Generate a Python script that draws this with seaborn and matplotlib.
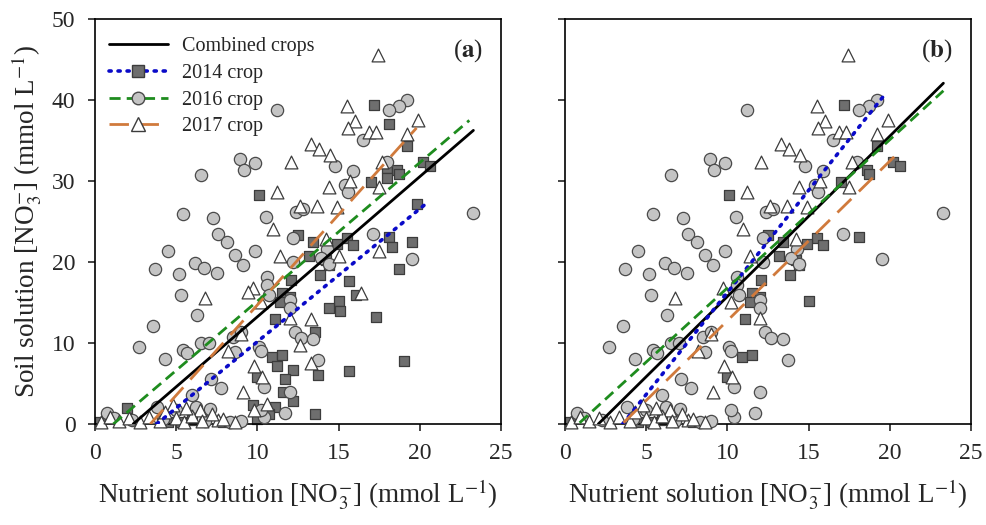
import numpy as np
import pandas as pd
import seaborn as sns
from matplotlib import pyplot as plt
from matplotlib.lines import Line2D

# ---- dados ----
# 2014 crop (quadrados); b14 = 1 se o ponto aparece também no painel (b)
x14 = [17.2, 18.1, 19.2, 20.2, 20.6, 18.0, 18.6, 18.7, 18.0, 17.0, 10.1, 19.8,
       12.5, 13.4, 15.5, 15.9, 14.9, 18.1, 18.3, 19.5, 18.7, 13.2, 14.4, 14.2,
       13.85, 12.05, 15.65, 11.5, 12.0, 11.4, 16.05, 15.0, 15.1, 14.4, 11.1, 13.55,
       17.3, 10.9, 11.5, 11.2, 12.2, 13.75, 11.7, 15.65, 19.05, 11.6, 12.2, 9.75,
       11.1, 13.55, 9.95, 0.3, 2.0, 4.5, 5.3, 7.9, 6.0, 10.0, 10.7]
y14 = [39.4, 37.0, 34.3, 32.4, 31.9, 31.6, 31.4, 30.9, 30.4, 29.9, 28.3, 27.2,
       23.3, 22.5, 23.0, 22.1, 22.2, 23.1, 21.9, 22.5, 19.1, 20.7, 19.6, 20.3,
       18.4, 17.8, 17.6, 16.2, 15.7, 15.1, 15.9, 15.2, 13.9, 14.3, 13.0, 11.3,
       13.2, 8.3, 8.5, 7.2, 6.7, 6.0, 5.6, 6.6, 7.8, 4.0, 2.8, 2.3,
       2.1, 1.2, 5.8, 0.2, 2.0, 0.3, 0.2, 0.2, 0.5, 0.6, 1.2]
b14 = [1, 0, 1, 1, 1, 0, 1, 1, 0, 1, 1, 0,
       1, 1, 1, 1, 1, 1, 0, 0, 0, 1, 1, 1,
       1, 1, 0, 1, 1, 1, 0, 1, 0, 0, 1, 0,
       0, 1, 1, 0, 0, 0, 0, 0, 0, 0, 0, 0,
       0, 0, 1, 1, 0, 1, 1, 1, 1, 0, 0]

# 2016 crop (círculos), iguais nos dois painéis
x16 = [23.3, 19.2, 18.7, 18.1, 11.2, 16.5, 8.9, 9.2, 9.85, 6.5, 14.8, 15.9,
       15.4, 15.6, 18.0, 5.4, 10.5, 12.4, 12.8, 7.25, 7.55, 8.1, 8.6, 9.1,
       4.5, 3.7, 5.2, 6.15, 6.7, 7.5, 9.85, 12.2, 17.1, 19.5, 14.3, 13.9,
       14.4, 12.2, 10.6, 10.6, 10.7, 12.0, 12.0, 12.3, 12.7, 13.4, 10.1, 10.2,
       5.3, 6.25, 3.6, 2.7, 4.3, 5.4, 5.65, 6.55, 7.05, 8.5, 8.6, 9.0,
       7.15, 7.75, 5.95, 10.4, 12.0, 10.4, 11.7, 3.8, 5.0, 6.2, 7.1, 9.0,
       10.2, 0.75, 1.2, 2.3, 4.2, 6.8, 8.3, 13.75]
y16 = [26.1, 40.0, 39.3, 38.8, 38.8, 35.1, 32.7, 31.3, 32.2, 30.8, 31.9, 31.2,
       29.5, 28.6, 32.3, 25.9, 25.6, 26.2, 26.6, 25.4, 23.5, 22.5, 20.9, 19.6,
       21.4, 19.1, 18.5, 19.9, 19.2, 18.6, 21.4, 23.0, 23.5, 20.4, 21.6, 20.5,
       19.8, 20.0, 18.2, 17.2, 15.9, 15.3, 14.3, 11.4, 10.6, 10.5, 9.5, 9.0,
       15.9, 13.5, 12.1, 9.5, 8.0, 9.1, 8.8, 10.0, 10.0, 10.7, 8.9, 11.4,
       5.6, 4.5, 3.6, 4.6, 3.9, 0.9, 1.3, 2.1, 1.7, 2.1, 1.8, 0.4,
       1.7, 1.3, 0.8, 0.5, 0.6, 0.4, 0.3, 7.9]

# 2017 crop (triângulos); b17 = 1 se aparece no painel (b)
x17 = [17.4, 15.5, 16.0, 15.6, 16.85, 17.3, 19.9, 19.2, 13.3, 13.8, 14.5, 12.05,
       17.7, 15.7, 14.4, 11.2, 17.5, 12.65, 13.65, 14.9, 10.95, 14.2, 11.4, 15.05,
       17.5, 9.7, 9.4, 16.4, 12.0, 13.3, 12.6, 13.3, 9.8, 10.3, 9.1, 10.6,
       9.8, 6.75, 9.0, 8.2, 10.2, 4.8, 6.45, 7.6, 0.4, 0.9, 1.5, 2.1,
       2.8, 3.3, 4.0, 5.0, 5.5, 6.0, 6.6, 7.2, 7.9, 8.6, 5.6, 4.3]
y17 = [45.6, 39.3, 37.4, 36.6, 36.1, 36.0, 37.5, 35.8, 34.6, 33.9, 33.2, 32.4,
       32.3, 30.0, 29.3, 28.7, 29.2, 26.9, 26.9, 26.8, 24.1, 22.9, 20.8, 20.7,
       21.4, 16.8, 16.3, 16.2, 13.1, 13.0, 9.75, 7.5, 7.1, 5.8, 4.0, 2.5,
       1.7, 15.6, 11.1, 9.0, 15.1, 2.3, 1.7, 0.5, 0.3, 0.9, 0.4, 0.8,
       0.3, 0.9, 0.4, 0.8, 0.3, 1.0, 0.4, 1.2, 0.6, 0.3, 2.0, 1.5]
b17 = [1, 1, 1, 1, 1, 1, 1, 1, 1, 1, 1, 1,
       1, 1, 1, 1, 1, 1, 1, 1, 1, 1, 1, 0,
       0, 1, 0, 0, 1, 0, 0, 0, 1, 1, 1, 0,
       0, 1, 1, 1, 1, 1, 1, 1, 1, 1, 1, 1,
       1, 1, 1, 1, 1, 1, 1, 1, 1, 1, 1, 1]

# retas de regressão: inclinação, intercepto, x inicial, x final
serie = ["Combined crops", "2014 crop", "2016 crop", "2017 crop"]
inc_a = [1.73, 1.64, 1.71, 2.23]
int_a = [-4.06, -6.23, -1.93, -7.60]
xi_a = [2.35, 3.8, 1.13, 3.4]
xf_a = [23.3, 20.3, 23.05, 19.8]
inc_b = [1.98, 2.52, 1.83, 1.97]
int_b = [-4.06, -8.95, -1.50, -6.94]
xi_b = [2.05, 3.55, 0.9, 3.6]
xf_b = [23.3, 19.7, 23.3, 20.6]

cores = ["black", "#0a0ac8", "#1e8c1e", "#d07a3c"]
estilos = ["-", (0, (0.6, 1.9)), (0, (4, 2.2)), (0, (7, 3.8))]
larguras = [2.0, 2.6, 2.0, 2.0]

sns.set_theme(style="ticks")
plt.rcParams["font.family"] = ["Liberation Serif", "DejaVu Serif"]
plt.rcParams["mathtext.fontset"] = "stix"
plt.rcParams["axes.linewidth"] = 1.2
plt.rcParams["xtick.major.width"] = 1.2
plt.rcParams["ytick.major.width"] = 1.2
plt.rcParams["xtick.major.size"] = 5
plt.rcParams["ytick.major.size"] = 5

d14 = pd.DataFrame({"x": x14, "y": y14, "b": b14})
d16 = pd.DataFrame({"x": x16, "y": y16})
d17 = pd.DataFrame({"x": x17, "y": y17, "b": b17})

fig = plt.figure(figsize=(9.86, 5.25), dpi=100)
ax_a = fig.add_axes([95 / 986, 101 / 525, 406 / 986, 405 / 525])
ax_b = fig.add_axes([565 / 986, 101 / 525, 406 / 986, 405 / 525])


def desenhar(ax, q, c, t, inc, itc, xi, xf, rotulo):
    sns.scatterplot(data=q, x="x", y="y", ax=ax, marker="s", s=55,
                    color="#6e6e6e", edgecolor="#3c3c3c", linewidth=0.9,
                    clip_on=False, zorder=2)
    sns.scatterplot(data=c, x="x", y="y", ax=ax, marker="o", s=78,
                    color="#c4c4c4", edgecolor="#4a4a4a", linewidth=0.9,
                    clip_on=False, zorder=3)
    sns.scatterplot(data=t, x="x", y="y", ax=ax, marker="^", s=85,
                    color="white", edgecolor="#3c3c3c", linewidth=0.9,
                    clip_on=False, zorder=4)
    for i in range(len(serie)):
        xs = np.array([xi[i], xf[i]])
        dl = pd.DataFrame({"x": xs, "y": inc[i] * xs + itc[i]})
        sns.lineplot(data=dl, x="x", y="y", ax=ax, color=cores[i],
                     linestyle=estilos[i], linewidth=larguras[i],
                     dash_capstyle="round" if i == 1 else "butt", zorder=6)
    ax.set_xlim(0, 25)
    ax.set_ylim(0, 50)
    ax.set_xticks(range(0, 26, 5))
    ax.set_yticks(range(0, 51, 10))
    ax.tick_params(labelsize=17, direction="out", pad=9)
    ax.set_xlabel(r"Nutrient solution [NO$_3^{-}$] (mmol L$^{-1}$)",
                  fontsize=19.5, labelpad=9)
    ax.set_ylabel("")
    for s in ax.spines.values():
        s.set_visible(True)
        s.set_color("black")
    ax.text(0.955, 0.955, rotulo, transform=ax.transAxes, ha="right",
            va="top", fontsize=18)


desenhar(ax_a, d14, d16, d17, inc_a, int_a, xi_a, xf_a, r"($\mathbf{a}$)")
desenhar(ax_b, d14[d14.b == 1], d16, d17[d17.b == 1], inc_b, int_b, xi_b,
         xf_b, r"($\mathbf{b}$)")
ax_a.set_ylabel(r"Soil solution [NO$_3^{-}$] (mmol L$^{-1}$)", fontsize=19.5,
                labelpad=6)
ax_b.set_yticklabels([])

handles = [
    Line2D([], [], color=cores[0], lw=2),
    Line2D([], [], color=cores[1], ls=estilos[1], lw=2.6, marker="s",
           markersize=8, markerfacecolor="#6e6e6e", markeredgecolor="#3c3c3c",
           dash_capstyle="round"),
    Line2D([], [], color=cores[2], ls=estilos[2], lw=2, marker="o",
           markersize=9, markerfacecolor="#c4c4c4", markeredgecolor="#4a4a4a"),
    Line2D([], [], color=cores[3], ls=estilos[3], lw=2, marker="^",
           markersize=9.5, markerfacecolor="white", markeredgecolor="#3c3c3c"),
]
ax_a.legend(handles, serie, loc="upper left", bbox_to_anchor=(0.0, 0.99),
            frameon=False, fontsize=14.5, handlelength=2.9, handletextpad=0.7,
            labelspacing=0.38, borderaxespad=0.3)

plt.savefig("out.png", dpi=100)
